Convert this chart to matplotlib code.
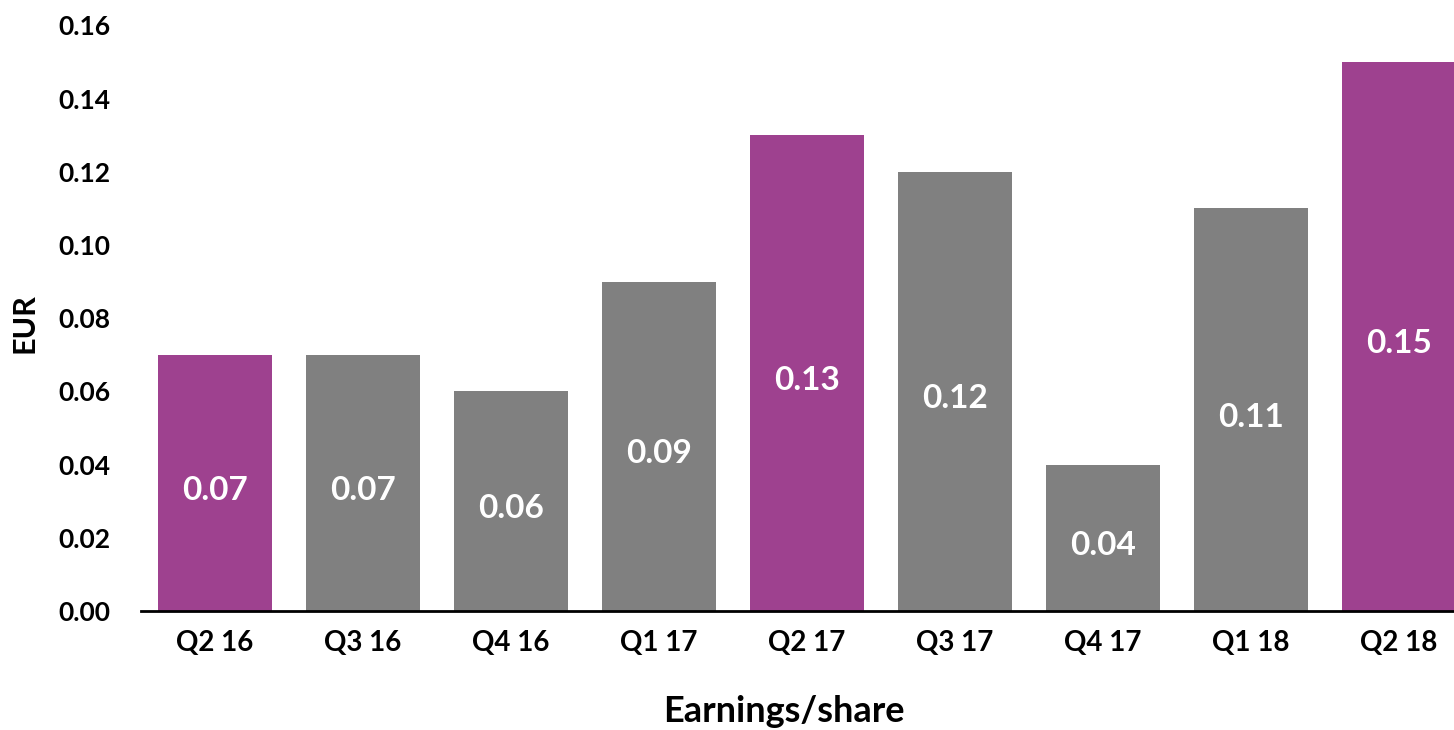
import numpy as np
import matplotlib
matplotlib.use("Agg")
import matplotlib.pyplot as plt

# data
quarters = ["Q2 16", "Q3 16", "Q4 16", "Q1 17", "Q2 17", "Q3 17", "Q4 17", "Q1 18", "Q2 18"]
eps = [0.07, 0.07, 0.06, 0.09, 0.13, 0.12, 0.04, 0.11, 0.15]
highlight = [True, False, False, False, True, False, False, False, True]
y_ticks = [0.00, 0.02, 0.04, 0.06, 0.08, 0.10, 0.12, 0.14, 0.16]

purple = "#9e418f"
grey = "#808080"

plt.rcParams['font.family'] = ['Lato', 'DejaVu Sans']

W, H = 1454, 730
fig = plt.figure(figsize=(W / 100, H / 100), dpi=100)
ax = fig.add_axes([141 / W, (H - 611) / H, 1 - 141 / W, (611 - 25.4) / H])

x = np.arange(len(quarters))
colors = [purple if h else grey for h in highlight]
bars = ax.bar(x, eps, width=0.77, color=colors, zorder=2)

# value labels inside the bars
for xi, v in zip(x, eps):
    ax.text(xi, v / 2 - 0.002, "%.2f" % v, ha="center", va="center",
            color="white", fontsize=24, fontweight="bold")

ax.set_xlim(-0.5, 8.372)
ax.set_ylim(0, 0.16)
ax.set_yticks(y_ticks)
ax.set_yticklabels(["%.2f" % t for t in y_ticks])
ax.set_xticks(x)
ax.set_xticklabels(quarters)

for side in ["top", "right", "left"]:
    ax.spines[side].set_visible(False)
ax.spines["bottom"].set_linewidth(2)
ax.spines["bottom"].set_color("black")
ax.tick_params(axis="y", length=0, labelsize=19, pad=22)
ax.tick_params(axis="x", length=0, labelsize=20, pad=14)
for lab in ax.get_xticklabels() + ax.get_yticklabels():
    lab.set_fontweight("bold")

fig.text(25 / W, 1 - 323 / H, "EUR", rotation=90, ha="center", va="center",
         fontsize=22, fontweight="bold")
fig.text(784 / W, 1 - 711 / H, "Earnings/share", ha="center", va="center",
         fontsize=26, fontweight="bold")

fig.savefig("out.png", dpi=100)
